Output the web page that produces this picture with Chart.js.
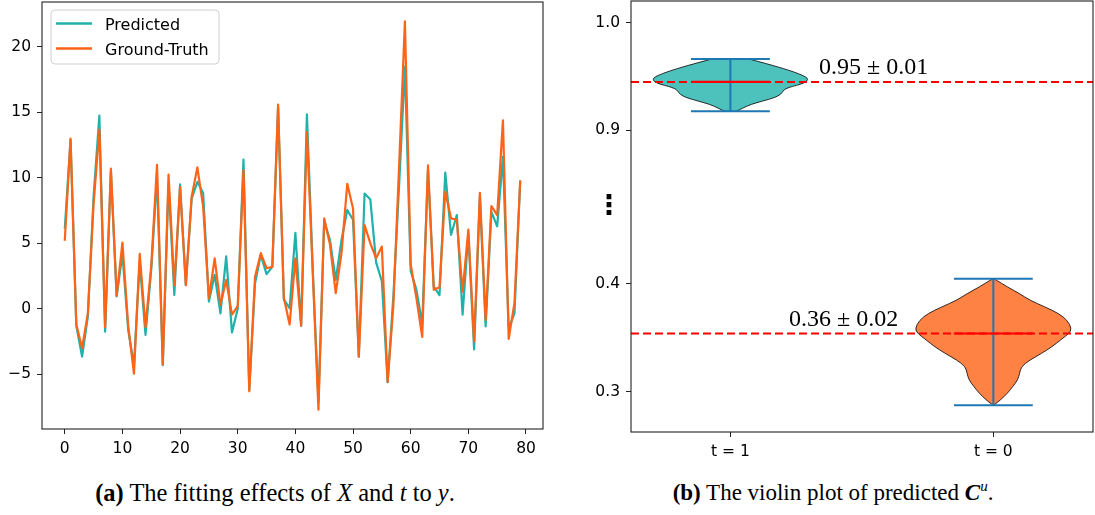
<!DOCTYPE html>
<html>
<head>
<meta charset="utf-8">
<script src="https://cdn.jsdelivr.net/npm/chart.js@4.4.1/dist/chart.umd.min.js"></script>
<style>
  body { margin: 0; background: #fff; width: 1095px; height: 515px; position: relative; overflow: hidden; }
  canvas { position: absolute; top: 0; }
  #fitChart { left: 0; }
  #violinChart { left: 560px; }
  .cap { position: absolute; top: 481px; width: 400px; text-align: center; white-space: nowrap;
         font-family: 'Liberation Serif', serif; line-height: 23.5px; color: #000; }
  .sup { font-size: 15px; position: relative; top: -9px; }
</style>
</head>
<body>
<canvas id="fitChart" width="560" height="470"></canvas>
<canvas id="violinChart" width="535" height="470"></canvas>
<div class="cap" style="left:75px;font-size:24.5px"><b>(a)</b> The fitting effects of <i>X</i> and <i>t</i> to <i>y</i>.</div>
<div class="cap" style="left:633px;font-size:23px"><b>(b)</b> The violin plot of predicted <b><i>C</i></b><span class="sup"><i>u</i></span>.</div>
<script>
// ---- data: left panel (fitting effects) ----
const sampleIndex = [
  0, 1, 2, 3, 4, 5, 6, 7, 8, 9, 10, 11, 12, 13, 14, 15, 16, 17, 18, 19,
  20, 21, 22, 23, 24, 25, 26, 27, 28, 29, 30, 31, 32, 33, 34, 35, 36, 37, 38, 39,
  40, 41, 42, 43, 44, 45, 46, 47, 48, 49, 50, 51, 52, 53, 54, 55, 56, 57, 58, 59,
  60, 61, 62, 63, 64, 65, 66, 67, 68, 69, 70, 71, 72, 73, 74, 75, 76, 77, 78, 79
];
const predicted = [
  6.1, 12.9, -1.3, -3.65, -0.6, 8.6, 14.75, -1.75, 10.5, 0.95,
  4.2, -1.6, -4.3, 3.6, -2.0, 3.0, 10.1, -4.3, 9.6, 1.05,
  9.5, 1.8, 8.4, 9.7, 8.85, 0.55, 2.6, -0.35, 4.0, -1.8,
  0.0, 11.4, -6.2, 1.95, 4.1, 2.65, 3.2, 15.4, 0.7, 0.05,
  5.8, -1.3, 14.85, 3.2, -7.1, 6.7, 5.25, 2.2, 5.25, 7.55,
  6.8, -3.65, 8.8, 8.35, 3.55, 2.1, -5.6, 1.0, 9.5, 18.5,
  2.9, 1.45, -1.15, 10.6, 1.7, 1.05, 10.4, 5.65, 7.15, -0.45,
  5.75, -3.1, 8.55, -1.35, 7.4, 6.3, 11.6, -1.5, -0.35, 9.8
];
const groundTruth = [
  5.2, 13.0, -1.2, -3.0, -0.35, 8.0, 13.7, -1.4, 10.7, 1.0,
  5.05, -1.3, -4.95, 4.2, -1.4, 3.3, 11.0, -4.25, 10.25, 1.8,
  9.3, 1.8, 8.55, 10.8, 7.8, 0.8, 3.85, 0.3, 2.2, -0.45,
  0.2, 10.6, -6.3, 2.45, 4.25, 3.1, 3.2, 15.6, 0.85, -1.2,
  3.85, -1.3, 13.5, 2.9, -7.7, 6.9, 4.9, 1.2, 4.25, 9.55,
  7.65, -3.65, 6.4, 5.0, 3.85, 4.75, -5.6, 0.3, 11.0, 21.95,
  3.4, 0.8, -2.15, 10.95, 1.45, 1.65, 8.95, 6.9, 6.8, 1.3,
  6.05, -2.5, 8.85, -0.85, 7.85, 7.15, 14.4, -2.3, 0.45, 9.8
];
const fitXTicks = [0, 10, 20, 30, 40, 50, 60, 70, 80];
const fitYTicks = [-5, 0, 5, 10, 15, 20];

// ---- data: right panel (violins) ----
const violinCategories = ['t = 1', 't = 0'];
const violinPositions = [1, 2];
const violin1Values = [0.9663, 0.9657, 0.9620, 0.9589, 0.9558, 0.9527, 0.9496, 0.9474, 0.9450, 0.9428,
                       0.9409, 0.9388, 0.9366, 0.9335, 0.9304, 0.9273, 0.9242, 0.9211, 0.9186, 0.9177];
const violin1Widths = [0.07, 0.08, 0.136, 0.181, 0.223, 0.259, 0.288, 0.295, 0.288, 0.266,
                       0.236, 0.21, 0.2, 0.192, 0.168, 0.123, 0.078, 0.05, 0.03, 0.02];
const violin2Values = [0.4046, 0.4037, 0.3969, 0.3908, 0.3846, 0.3784, 0.3723, 0.3661, 0.3584, 0.3538, 0.3477,
                       0.3415, 0.3354, 0.3292, 0.3230, 0.3169, 0.3107, 0.3046, 0.2984, 0.2923, 0.2879, 0.2873];
const violin2Widths = [0.0, 0.009, 0.054, 0.1, 0.139, 0.197, 0.249, 0.281, 0.298, 0.288, 0.255,
                       0.223, 0.184, 0.139, 0.106, 0.1, 0.093, 0.074, 0.054, 0.028, 0.005, 0.0];
const violinMedians = [0.945, 0.3538];
const violinMaxima = [0.9663, 0.4046];
const violinMinima = [0.9177, 0.2873];
const violinLabels = ['0.95 \u00b1 0.01', '0.36 \u00b1 0.02'];
const violinLabelX = [1.337, 1.223];
const violinTickValues = [0.3, 0.4, 0.9, 1.0];
const violinTickLabels = ['0.3', '0.4', '0.9', '1.0'];

// broken y axis: values below the break are shifted up to close the gap
const BREAK_AT = 0.65;
const BREAK_SHIFT = 0.3578;
const brk = v => (v < BREAK_AT ? v + BREAK_SHIFT : v);

const TEAL = '#20B2AA';
const ORANGE = '#FF6316';

Chart.defaults.font.family = "'DejaVu Sans', sans-serif";
Chart.defaults.color = '#000';

// full box around the plot, like matplotlib spines
const framePlugin = {
  id: 'frame',
  afterDraw(chart) {
    const { ctx, chartArea: a } = chart;
    ctx.save();
    ctx.strokeStyle = '#222';
    ctx.lineWidth = 1.1;
    ctx.strokeRect(a.left, a.top, a.right - a.left, a.bottom - a.top);
    ctx.restore();
  }
};

// legend box inside the plot, upper left
const legendBox = {
  id: 'legendBox',
  afterDraw(chart) {
    const { ctx, chartArea: a } = chart;
    const x = a.left + 9, y = a.top + 8, w = 168, h = 54;
    ctx.save();
    ctx.beginPath();
    ctx.roundRect(x, y, w, h, 4);
    ctx.fillStyle = 'rgba(255,255,255,0.8)';
    ctx.fill();
    ctx.strokeStyle = '#d0d0d0';
    ctx.lineWidth = 1;
    ctx.stroke();
    ctx.font = "16px 'DejaVu Sans'";
    ctx.fillStyle = '#000';
    ctx.textBaseline = 'alphabetic';
    chart.data.datasets.forEach((ds, i) => {
      const ly = y + 13.5 + i * 25;
      ctx.beginPath();
      ctx.strokeStyle = ds.borderColor;
      ctx.lineWidth = 2.4;
      ctx.moveTo(x + 5, ly);
      ctx.lineTo(x + 41, ly);
      ctx.stroke();
      ctx.fillText(ds.label, x + 54, ly + 6.5);
    });
    ctx.restore();
  }
};

const minusFmt = v => (v < 0 ? '\u2212' + Math.abs(v) : String(v));

new Chart(document.getElementById('fitChart'), {
  type: 'line',
  data: {
    labels: sampleIndex,
    datasets: [
      { label: 'Predicted', data: predicted, borderColor: TEAL, borderWidth: 2.2,
        pointRadius: 0, tension: 0, borderJoinStyle: 'round', order: 1 },
      { label: 'Ground-Truth', data: groundTruth, borderColor: ORANGE, borderWidth: 2.2,
        pointRadius: 0, tension: 0, borderJoinStyle: 'round', order: 0 }
    ]
  },
  options: {
    responsive: false,
    animation: false,
    layout: { padding: { top: 2, right: 17, left: 0, bottom: 0 } },
    plugins: { legend: { display: false }, tooltip: { enabled: false } },
    scales: {
      x: {
        type: 'linear', min: -3.95, max: 82.95,
        afterFit: s => { s.height = 41; s.paddingLeft = 0; s.paddingRight = 0; },
        afterBuildTicks: s => { s.ticks = fitXTicks.map(v => ({ value: v })); },
        grid: { drawOnChartArea: false, tickLength: 5, tickColor: '#222' },
        border: { display: false },
        ticks: { padding: 6, font: { size: 15.5 }, maxRotation: 0, autoSkip: false, callback: minusFmt }
      },
      y: {
        min: -9.18, max: 23.43,
        afterFit: s => { s.width = 42; s.paddingTop = 0; s.paddingBottom = 0; },
        afterBuildTicks: s => { s.ticks = fitYTicks.map(v => ({ value: v })); },
        grid: { drawOnChartArea: false, tickLength: 5, tickColor: '#222' },
        border: { display: false },
        ticks: { padding: 6, font: { size: 15.5 }, autoSkip: false, callback: minusFmt }
      }
    }
  },
  plugins: [framePlugin, legendBox]
});

// smooth path through points (continues the current path)
function smoothPath(ctx, pts) {
  ctx.lineTo(pts[0][0], pts[0][1]);
  for (let i = 1; i < pts.length - 1; i++) {
    const mx = (pts[i][0] + pts[i + 1][0]) / 2, my = (pts[i][1] + pts[i + 1][1]) / 2;
    ctx.quadraticCurveTo(pts[i][0], pts[i][1], mx, my);
  }
  const last = pts[pts.length - 1];
  ctx.lineTo(last[0], last[1]);
}

const violinPlugin = {
  id: 'violins',
  afterDraw(chart) {
    const { ctx, chartArea: a, scales: { x, y } } = chart;
    const bodies = [
      { vals: violin1Values, widths: violin1Widths, fill: 'rgba(32,178,170,0.8)' },
      { vals: violin2Values, widths: violin2Widths, fill: 'rgba(255,99,22,0.8)' }
    ];
    ctx.save();
    ctx.beginPath();
    ctx.rect(a.left, a.top, a.right - a.left, a.bottom - a.top);
    ctx.clip();

    bodies.forEach((b, k) => {
      const pos = violinPositions[k];
      const left = b.vals.map((v, i) => [x.getPixelForValue(pos - b.widths[i]), y.getPixelForValue(brk(v))]);
      const right = b.vals.map((v, i) => [x.getPixelForValue(pos + b.widths[i]), y.getPixelForValue(brk(v))]).reverse();
      ctx.beginPath();
      ctx.moveTo(left[0][0], left[0][1]);
      smoothPath(ctx, left);
      smoothPath(ctx, right);
      ctx.closePath();
      ctx.fillStyle = b.fill;
      ctx.fill();
      ctx.strokeStyle = 'rgba(0,0,0,0.8)';
      ctx.lineWidth = 1;
      ctx.stroke();
    });

    // mean lines across the axes
    ctx.setLineDash([8, 4]);
    ctx.strokeStyle = '#ff0000';
    ctx.lineWidth = 2;
    violinMedians.forEach(m => {
      const py = y.getPixelForValue(brk(m));
      ctx.beginPath();
      ctx.moveTo(a.left, py);
      ctx.lineTo(a.right, py);
      ctx.stroke();
    });
    ctx.setLineDash([]);

    // extrema bars and caps
    ctx.strokeStyle = '#1f77b4';
    ctx.lineWidth = 2;
    violinPositions.forEach((pos, k) => {
      const cx = x.getPixelForValue(pos);
      const top = y.getPixelForValue(brk(violinMaxima[k]));
      const bot = y.getPixelForValue(brk(violinMinima[k]));
      const c0 = x.getPixelForValue(pos - 0.15), c1 = x.getPixelForValue(pos + 0.15);
      ctx.beginPath();
      ctx.moveTo(cx, top); ctx.lineTo(cx, bot);
      ctx.moveTo(c0, top); ctx.lineTo(c1, top);
      ctx.moveTo(c0, bot); ctx.lineTo(c1, bot);
      ctx.stroke();
    });

    // medians
    ctx.strokeStyle = '#ff0000';
    ctx.lineWidth = 2.2;
    violinPositions.forEach((pos, k) => {
      const py = y.getPixelForValue(brk(violinMedians[k]));
      ctx.beginPath();
      ctx.moveTo(x.getPixelForValue(pos - 0.15), py);
      ctx.lineTo(x.getPixelForValue(pos + 0.15), py);
      ctx.stroke();
    });

    // value annotations
    ctx.fillStyle = '#000';
    ctx.font = "24px 'Liberation Serif'";
    ctx.textBaseline = 'alphabetic';
    violinLabels.forEach((t, k) => {
      ctx.fillText(t, x.getPixelForValue(violinLabelX[k]), y.getPixelForValue(brk(violinMedians[k])) - 7.5);
    });
    ctx.restore();

    // axis break marker
    ctx.save();
    ctx.fillStyle = '#000';
    ctx.font = "bold 27px 'DejaVu Sans'";
    ctx.textAlign = 'center';
    ctx.textBaseline = 'middle';
    ctx.fillText('\u22ee', a.left - 22, y.getPixelForValue((brk(0.4) + 0.9) / 2));
    ctx.restore();
  }
};

new Chart(document.getElementById('violinChart'), {
  type: 'scatter',
  data: { datasets: [] },
  options: {
    responsive: false,
    animation: false,
    layout: { padding: { top: 1, right: 2, left: 0, bottom: 0 } },
    plugins: { legend: { display: false }, tooltip: { enabled: false } },
    scales: {
      x: {
        type: 'linear', min: 0.622, max: 2.379,
        afterFit: s => { s.height = 38; s.paddingLeft = 0; s.paddingRight = 0; },
        afterBuildTicks: s => { s.ticks = violinPositions.map(v => ({ value: v })); },
        grid: { drawOnChartArea: false, tickLength: 5, tickColor: '#222' },
        border: { display: false },
        ticks: { padding: 6, font: { size: 15.5 }, maxRotation: 0, autoSkip: false,
                 callback: v => violinCategories[violinPositions.indexOf(v)] }
      },
      y: {
        min: 0.6202, max: 1.0201,
        afterFit: s => { s.width = 71; s.paddingTop = 0; s.paddingBottom = 0; },
        afterBuildTicks: s => { s.ticks = violinTickValues.map(v => ({ value: brk(v) })); },
        grid: { drawOnChartArea: false, tickLength: 5, tickColor: '#222' },
        border: { display: false },
        ticks: { padding: 6, font: { size: 15.5 }, autoSkip: false,
                 callback: (v, i) => violinTickLabels[i] }
      }
    }
  },
  plugins: [violinPlugin, framePlugin]
});
</script>
</body>
</html>
